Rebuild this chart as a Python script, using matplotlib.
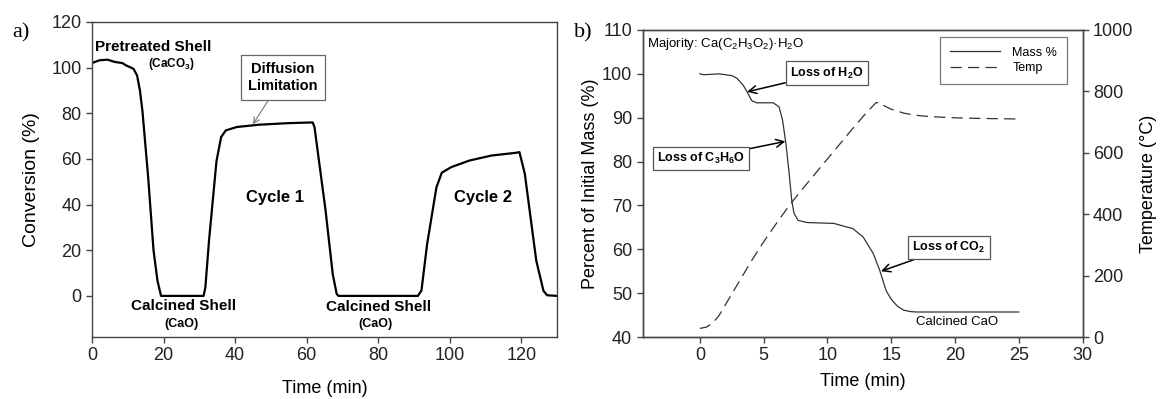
import matplotlib
matplotlib.use("Agg")
import matplotlib.pyplot as plt

plt.rcParams["font.family"] = ["Liberation Sans", "DejaVu Sans"]
plt.rcParams["mathtext.fontset"] = "custom"
plt.rcParams["mathtext.rm"] = "Liberation Sans"
plt.rcParams["mathtext.it"] = "Liberation Sans:italic"
plt.rcParams["mathtext.bf"] = "Liberation Sans:bold"
plt.rcParams["mathtext.default"] = "regular"

# ── (a) conversion vs time ────────────────────────────────────
conv_time = [0, 2, 4.3, 6.4, 8.5, 9.5, 10.5, 11.6, 12.6, 13.4, 14.1, 15.7, 17.2,
             18.3, 19.3, 31.2, 31.7, 32.7, 34.8, 36.1, 37.4, 40.5, 46.7, 55,
             61.7, 62.2, 65.3, 67.3, 68.4, 68.9, 91.1, 92.1, 93.7, 96.3, 97.8,
             100.4, 105.5, 111.7, 118.5, 119.5, 121, 124.2, 126.2, 127.2, 130]
conversion = [102, 103.2, 103.5, 102.5, 102, 101, 100.3, 99.5, 96.6, 90, 81, 52,
              20, 6.7, 0, 0, 3.8, 24, 59, 69.6, 72.5, 74, 75, 75.7,
              76, 74, 37.4, 9.6, 0.9, 0, 0, 2.3, 22.8, 47.6, 54,
              56.4, 59.3, 61.5, 62.7, 63, 53.5, 15.5, 2.3, 0.3, 0]

# ── (b) TGA: mass % and temperature vs time ───────────────────
mass_time = [0, 0.3, 1.5, 2.5, 2.9, 3.4, 3.7, 4.06, 4.45, 5.75, 6.2, 6.48, 6.74,
             7.0, 7.2, 7.38, 7.7, 8.4, 10.5, 12.0, 12.8, 13.6, 14.1, 14.6,
             15.0, 15.5, 16.0, 16.5, 17.0, 25.0]
mass_pct = [100, 99.8, 100.0, 99.6, 99.0, 97.4, 95.9, 93.9, 93.4, 93.4, 92.5, 89.5,
            84.2, 77.3, 71.2, 68.2, 66.6, 66.1, 65.9, 64.7, 62.8, 59.0, 55.2, 50.6,
            48.6, 47.0, 46.1, 45.8, 45.7, 45.7]

temp_time = [0, 0.5, 1, 1.5, 2, 3, 4, 5, 6, 7, 8, 9, 10, 11, 12, 13, 13.8,
             14.1, 14.5, 15, 16, 17, 18, 20, 22, 25]
temp_c = [28, 32, 45, 70, 105, 175, 245, 310, 370, 428, 480, 530, 580, 630,
          680, 728, 763, 764, 752, 742, 729, 722, 718, 714, 712, 710]

W, H = 1160, 399
fig = plt.figure(figsize=(W / 100, H / 100), dpi=100)

ax_a = fig.add_axes([92 / W, 62 / H, 465 / W, 315 / H])
ax_b = fig.add_axes([642.5 / W, 62 / H, 440 / W, 307 / H])
ax_t = ax_b.twinx()

SPINE = "#444444"
TICK_FS = 13

for ax in (ax_a, ax_b, ax_t):
    for s in ax.spines.values():
        s.set_color(SPINE)
        s.set_linewidth(1.0)
    ax.tick_params(direction="out", length=4, width=1, color=SPINE,
                   labelsize=TICK_FS, labelcolor="#222222")

# ---------------- panel a ----------------
ax_a.plot(conv_time, conversion, color="black", lw=1.6)
ax_a.set_xlim(0, 130)
ax_a.set_ylim(-18, 120)
ax_a.set_xticks(range(0, 121, 20))
ax_a.set_yticks(range(0, 121, 20))
ax_a.set_xlabel("Time (min)", fontsize=13, labelpad=11)
ax_a.set_ylabel("Conversion (%)", fontsize=14, labelpad=8)

bold = dict(fontweight="bold", ha="center", va="center")
ax_a.text(17, 109, "Pretreated Shell", fontsize=11, **bold)
ax_a.text(22.2, 101.8, r"(CaCO$_\mathbf{3}$)", fontsize=8.5, **bold)
ax_a.text(51.1, 43.3, "Cycle 1", fontsize=12, **bold)
ax_a.text(109.3, 43.3, "Cycle 2", fontsize=12, **bold)
ax_a.text(25.5, -4.4, "Calcined Shell", fontsize=11, **bold)
ax_a.text(25, -12.4, "(CaO)", fontsize=9, **bold)
ax_a.text(80, -4.7, "Calcined Shell", fontsize=11, **bold)
ax_a.text(79.3, -12.4, "(CaO)", fontsize=9, **bold)
ax_a.annotate("Diffusion\nLimitation", xy=(45, 75.2), xytext=(53.3, 95.6),
              fontsize=10.5, fontweight="bold", ha="center", va="center",
              linespacing=1.25,
              bbox=dict(boxstyle="square,pad=0.5", fc="white", ec="#666666", lw=0.9),
              arrowprops=dict(arrowstyle="->", color="#777777", lw=0.8,
                              shrinkA=0, shrinkB=0))

fig.text(12 / W, 1 - 33 / H, "a)", fontsize=16, family="Liberation Serif",
         ha="left", va="center")

# ---------------- panel b ----------------
l_mass, = ax_b.plot(mass_time, mass_pct, color="#333333", lw=0.9, label="Mass %")
l_temp, = ax_t.plot(temp_time, temp_c, color="#333333", lw=0.9,
                    dashes=(9, 5), label="Temp")
ax_b.set_xlim(-4.5, 30)
ax_b.set_ylim(40, 110)
ax_t.set_ylim(0, 1000)
ax_b.set_xticks(range(0, 31, 5))
ax_b.set_yticks(range(40, 111, 10))
ax_t.set_yticks(range(0, 1001, 200))
ax_b.set_xlabel("Time (min)", fontsize=13, labelpad=6)
ax_b.set_ylabel("Percent of Initial Mass (%)", fontsize=13, labelpad=2)
ax_t.set_ylabel("Temperature (°C)", fontsize=13, labelpad=5)

ax_b.text(0.01, 0.955, r"Majority: Ca(C$_2$H$_3$O$_2$)·H$_2$O", fontsize=9.5,
          transform=ax_b.transAxes, ha="left", va="center")

box = dict(boxstyle="square,pad=0.35", fc="white", ec="#555555", lw=0.9)
arrow = dict(arrowstyle="->", color="black", lw=1.1, shrinkA=0, shrinkB=0,
             mutation_scale=14)
ax_b.annotate(r"Loss of H$_\mathbf{2}$O", xy=(3.7, 95.9), xytext=(9.95, 100.2),
              fontsize=9, fontweight="bold", ha="center", va="center",
              bbox=box, arrowprops=arrow)
ax_b.annotate(r"Loss of C$_\mathbf{3}$H$_\mathbf{6}$O", xy=(6.7, 84.6),
              xytext=(0.1, 80.7), fontsize=9, fontweight="bold",
              ha="center", va="center", bbox=box, arrowprops=arrow)
ax_b.annotate(r"Loss of CO$_\mathbf{2}$", xy=(14.2, 55), xytext=(19.5, 60.4),
              fontsize=9, fontweight="bold", ha="center", va="center",
              bbox=box, arrowprops=arrow)
ax_b.text(20.2, 43.4, "Calcined CaO", fontsize=9.5, ha="center", va="center")

leg = ax_b.legend([l_mass, l_temp], ["Mass %", "Temp"], loc="upper right",
                  bbox_to_anchor=(0.965, 0.978), fontsize=9, frameon=True,
                  fancybox=False, edgecolor="#555555", handlelength=4,
                  handletextpad=1.0, labelspacing=0.25, borderpad=0.8,
                  borderaxespad=0)
leg.get_frame().set_linewidth(0.9)

fig.text(574 / W, 1 - 33 / H, "b)", fontsize=16, family="Liberation Serif",
         ha="left", va="center")

fig.savefig("out.png", dpi=100)
